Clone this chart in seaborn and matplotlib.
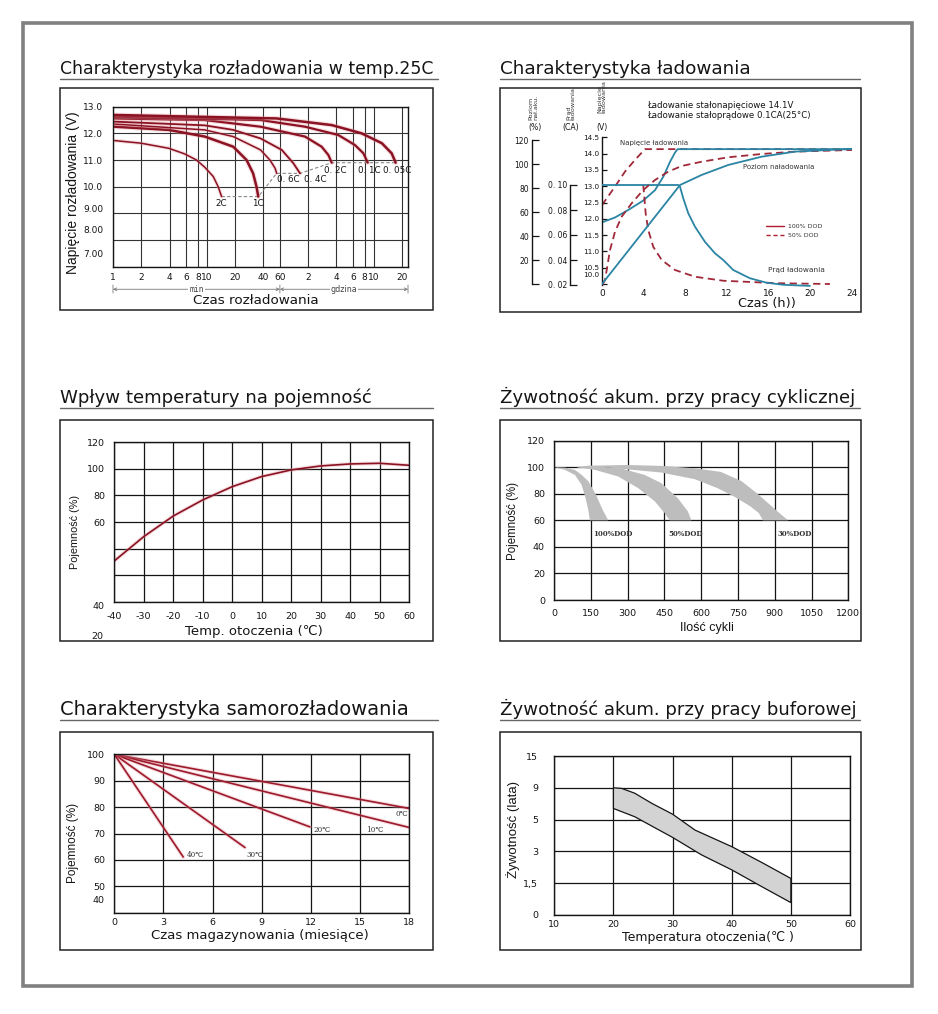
import matplotlib
matplotlib.use('Agg')
import matplotlib.pyplot as plt
import matplotlib.patheffects as pe
from matplotlib.lines import Line2D
from matplotlib.patches import Rectangle
from matplotlib.ticker import NullLocator, NullFormatter
import seaborn as sns

# ---------------- data ----------------
# discharge at 25C: time (minutes), voltage (V)
rate_names = ['2C', '1C', '0. 6C', '0. 4C', '0. 2C', '0. 1C', '0. 05C']
dis_t = [
    [1.04, 2.0, 3.93, 5.8, 7.76, 9.5, 11.7, 13.2, 14.35],
    [1.04, 3.93, 9.5, 19.1, 26.5, 31.1, 33.8, 35.3],
    [1.04, 9.5, 19.1, 37.3, 47, 53.4, 55.4],
    [1.04, 9.5, 19.1, 37.3, 62.8, 83.5, 98.3],
    [1.04, 9.5, 37.3, 111, 167, 197, 214],
    [1.04, 37.3, 111, 251, 379, 466, 518],
    [1.04, 55.4, 214, 446, 732, 932, 1027],
]
dis_v = [
    [11.73, 11.63, 11.44, 11.23, 11.0, 10.73, 10.38, 10.0, 9.63],
    [12.25, 12.13, 11.88, 11.5, 11.0, 10.5, 10.0, 9.63],
    [12.35, 12.13, 11.88, 11.38, 11.0, 10.69, 10.5],
    [12.44, 12.3, 12.13, 11.81, 11.38, 10.88, 10.5],
    [12.56, 12.5, 12.25, 11.88, 11.5, 11.19, 10.9],
    [12.63, 12.5, 12.25, 11.94, 11.56, 11.25, 10.9],
    [12.69, 12.56, 12.31, 12.0, 11.63, 11.25, 10.9],
]
dis_ticks = [1, 2, 4, 6, 8, 10, 20, 40, 60, 120, 240, 360, 480, 600, 1200]
dis_tick_labels = ['1', '2', '4', '6', '8', '10', '20', '40', '60', '2', '4', '6', '8', '10', '20']
dis_volt_labels = ['13.0', '12.0', '11.0', '10.0', '9.00', '8.00', '7.00']

# charging: hours; voltage (V), current (CA), charge level (%)
v100_h = [0, 1.25, 2.52, 3.96, 5.09, 5.88, 6.53, 7.0, 7.26, 24]
v100 = [11.89, 12.04, 12.27, 12.56, 12.88, 13.29, 13.75, 14.03, 14.14, 14.14]
v50_h = [0, 1.25, 2.21, 3.17, 4.13, 24]
v50 = [12.42, 12.99, 13.45, 13.81, 14.14, 14.14]
i100_h = [0, 7.32, 7.49, 7.8, 8.28, 8.93, 9.88, 10.84, 11.64, 12.6, 14.2, 15.81, 17.4, 19.0, 19.96]
i100 = [0.1, 0.1, 0.0986, 0.0894, 0.0774, 0.0666, 0.0546, 0.0454, 0.04, 0.032, 0.0254, 0.0218,
        0.0202, 0.0196, 0.0193]
i50_h = [3.96, 4.06, 4.19, 4.44, 4.92, 5.73, 7.01, 8.93, 11.64, 16.92, 21.88]
i50 = [0.1, 0.0906, 0.0774, 0.064, 0.0506, 0.04, 0.032, 0.0266, 0.0234, 0.0214, 0.0208]
c100_h = [0, 7.49, 9.57, 12.12, 15.33, 18.52, 21.72, 24]
c100 = [0.4, 82.9, 91.3, 99.6, 106.5, 110.7, 112.1, 112.9]
c50_h = [0.05, 0.29, 0.77, 1.25, 1.89, 2.85, 3.96, 5.09, 6.36, 7.65, 9.57, 12.12, 15.33, 18.52, 24]
c50 = [0, 3.75, 28.75, 44, 56.5, 67.7, 78.75, 87.1, 94, 98.75, 102.3, 106, 108.75, 110.7, 112.1]
chg_hours = [0, 4, 8, 12, 16, 20, 24]
volt_ticks = [14.5, 14.0, 13.5, 13.0, 12.5, 12.0, 11.5, 11.0, 10.5]
pct_ticks = [20, 40, 60, 80, 100, 120]
ca_ticks = [0.02, 0.04, 0.06, 0.08, 0.10]
ca_labels = ['0. 02', '0. 04', '0. 06', '0. 08', '0. 10']

# capacity vs temperature
temp_c = [-40, -30, -20, -10, 0, 10, 20, 30, 40, 50, 60]
temp_cap = [30.7, 49, 64.5, 76.6, 86.6, 94.2, 99.2, 102.2, 103.7, 104.2, 102.7]

# cycle life bands (cycles, capacity %), polygon outlines
dod_names = ['100%DOD', '50%DOD', '30%DOD']
dod100_x = [0, 44.7, 85.4, 112.5, 128.7, 139.6, 146.3, 221, 197, 172, 140, 112.5, 85.4, 44.7]
dod100_y = [100, 98, 94.25, 86.75, 76.75, 68, 60, 60, 68.5, 79, 89.5, 94.25, 98, 99.75]
dod50_x = [92, 167, 262, 343, 411, 451, 472, 560, 546, 505, 438, 370, 282, 200, 130]
dod50_y = [100, 98, 93, 84.3, 74.3, 65.5, 60, 60, 66.7, 76.7, 88, 94.2, 98.7, 100.3, 100.8]
dod30_x = [92, 140, 300, 440, 575, 680, 765, 830, 885, 925, 955, 852, 835, 801, 734, 666, 598,
           574, 438, 282, 200]
dod30_y = [100, 101.2, 101.7, 101, 99.2, 96.5, 89.5, 80, 71, 64.5, 60, 60, 65.5, 70.5, 78, 84.3,
           89.3, 91, 96, 98.7, 100]

# self discharge: straight lines from (0, 100)
sd_names = ['0℃', '10℃', '20℃', '30℃', '40℃']
sd_end_month = [18, 18, 11.95, 7.98, 4.21]
sd_end_cap = [79.5, 72.3, 72.5, 64.7, 61.1]

# float life band (temperature, position on the life scale)
life_up_t = [20, 21.4, 23.6, 26.5, 30, 33.8, 40, 45.1, 50]
life_up = [4.0, 3.98, 3.83, 3.51, 3.17, 2.67, 2.15, 1.65, 1.15]
life_lo_t = [20, 23.6, 30, 34.9, 40, 45.1, 50]
life_lo = [3.35, 3.09, 2.44, 1.89, 1.42, 0.89, 0.39]
life_labels = ['0', '1,5', '3', '5', '9', '15']

# ---------------- figure ----------------
sns.set_theme(style='white')
plt.rcParams['font.family'] = ['DejaVu Sans']
INK = '#151515'
RED = '#8a1222'
GLOW = '#e79aa3'
BLUE = '#2a84a4'
DRED = '#a02838'
NARROW = 'Liberation Sans'

W, H = 938, 1014
fig = plt.figure(figsize=(W / 100, H / 100), dpi=100)
fig.patch.set_facecolor('white')


def rect(x0, y0, x1, y1):
    return [x0 / W, 1 - y1 / H, (x1 - x0) / W, (y1 - y0) / H]


def ftext(x, y, s, **kw):
    kw.setdefault('color', INK)
    fig.text(x / W, 1 - y / H, s, **kw)


def frame(x0, y0, x1, y1, color='#222222', lw=1.1):
    fig.add_artist(Rectangle((x0 / W, 1 - y1 / H), (x1 - x0) / W, (y1 - y0) / H,
                             transform=fig.transFigure, fill=False, ec=color, lw=lw))


def heading(x0, x1, y, s, size=13.1):
    ftext(x0, y - 5, s, fontsize=size, va='baseline', ha='left')
    fig.add_artist(Line2D([x0 / W, x1 / W], [1 - y / H] * 2, color='#666666', lw=1.0))


def curve(ax, x, y, color, lw=1.3, ls='-', glow=None):
    kw = {}
    if glow:
        kw['path_effects'] = [pe.Stroke(linewidth=lw + 1.6, foreground=glow, alpha=0.35), pe.Normal()]
    sns.lineplot(x=x, y=y, ax=ax, color=color, linewidth=lw, linestyle=ls, sort=False,
                 estimator=None, legend=False, **kw)


def grid_axes(r, xlim, ylim, xticks, yticks, xlabels=None, ylabels=None, xpad=4, ypad=6, size=6.8):
    ax = fig.add_axes(r)
    ax.set_xticks(list(xticks))
    ax.set_yticks(list(yticks))
    ax.set_xticklabels(xlabels if xlabels is not None else [str(v) for v in xticks])
    ax.set_yticklabels(ylabels if ylabels is not None else [str(v) for v in yticks])
    ax.set_xlim(xlim)
    ax.set_ylim(ylim)
    ax.grid(True, color=INK, lw=0.9)
    ax.set_axisbelow(True)
    for s in ax.spines.values():
        s.set_color(INK)
        s.set_linewidth(1.0)
    ax.tick_params(length=0, labelsize=size, colors=INK)
    ax.tick_params(axis='x', pad=xpad)
    ax.tick_params(axis='y', pad=ypad)
    return ax


frame(23, 23, 912, 986, color='#808080', lw=2.6)

# ---- panel 1: discharge ----
heading(60, 438, 79, 'Charakterystyka rozładowania w temp.25C', size=12.4)
frame(60, 88, 433, 310)
ax1 = fig.add_axes(rect(113, 106.7, 408, 266.7))
ax1.set_xscale('log')
dis_lw = [1.1, 1.8, 1.1, 1.3, 1.6, 1.6, 1.8]
for t, v, lw in zip(dis_t, dis_v, dis_lw):
    curve(ax1, t, v, RED, lw, glow=GLOW)
ends_t = [t[-1] for t in dis_t]
ends_v = [v[-1] for v in dis_v]
ax1.plot(ends_t, ends_v, color='#888888', lw=0.8, ls=(0, (3, 2)), zorder=1)
lab_ha = ['center', 'center', 'left', 'left', 'center', 'center', 'center']
lab_fx = [1.0, 1.0, 1.02, 1.1, 1.08, 1.03, 1.03]
lab_dy = [-0.27, -0.27, -0.22, -0.22, -0.3, -0.3, -0.3]
for name, t, v, ha, fx, dy in zip(rate_names, ends_t, ends_v, lab_ha, lab_fx, lab_dy):
    ax1.text(t * fx, v + dy, name, ha=ha, va='center', fontsize=6.3, color=INK)
ax1.set_xlim(1, 1390)
ax1.set_ylim(7, 13)
ax1.set_xticks(dis_ticks)
ax1.set_xticklabels(dis_tick_labels)
ax1.xaxis.set_minor_locator(NullLocator())
ax1.xaxis.set_minor_formatter(NullFormatter())
ax1.yaxis.remove_overlapping_locs = False
ax1.set_yticks(range(7, 14))
ax1.set_yticklabels([''] * 7)
ax1.set_yticks([13, 12, 11, 10, 9.19, 8.41, 7.5], minor=True)
ax1.set_yticklabels(dis_volt_labels, minor=True)
ax1.grid(True, which='major', color='#333333', lw=0.8)
for s in ax1.spines.values():
    s.set_color(INK)
    s.set_linewidth(1.0)
ax1.tick_params(which='both', length=0, labelsize=6.5, colors=INK)
ax1.tick_params(axis='x', pad=4.3)
ax1.tick_params(axis='y', which='minor', pad=7)
row = ('data', 'axes fraction')
xr = ax1.get_xlim()[1]
for a, b, s, fam in [(1, 60, 'min', 'DejaVu Sans Mono'), (60, xr, 'gdzina', 'DejaVu Sans')]:
    ax1.annotate('', xy=(a, -0.141), xytext=(b, -0.141), xycoords=row,
                 arrowprops=dict(arrowstyle='<->', color='#777777', lw=0.6, mutation_scale=5,
                                 shrinkA=0, shrinkB=0))
    mid = (a * b) ** 0.5
    ax1.annotate(s, xy=(mid, -0.141), xycoords=row, ha='center', va='center', fontsize=5.8,
                 family=fam, color='#444444',
                 bbox=dict(fc='white', ec='none', pad=0.6))
for xv in [1, 60, xr]:
    ax1.annotate('', xy=(xv, -0.115), xytext=(xv, -0.165), xycoords=row,
                 arrowprops=dict(arrowstyle='-', color='#777777', lw=0.6, shrinkA=0, shrinkB=0))
ftext(73.3, 192.5, 'Napięcie rozładowania (V)', rotation=90, ha='center', va='center',
      fontsize=10, family=NARROW)
ftext(255.7, 300, 'Czas rozładowania', ha='center', va='center', fontsize=9.7)

# ---- panel 2: charging ----
heading(500, 860, 79, 'Charakterystyka ładowania', size=13.2)
frame(500, 88, 861, 312)
ax2 = fig.add_axes(rect(602, 135.8, 852, 287.1))
curve(ax2, v50_h, v50, DRED, 1.3, ls=(0, (4, 2.5)))
curve(ax2, v100_h, v100, BLUE, 1.3)
ax2.set_xlim(0, 24)
ax2.set_ylim(9.9, 14.55)
for s in ['top', 'right', 'bottom']:
    ax2.spines[s].set_visible(False)
ax2.spines['left'].set_color(INK)
ax2.spines['left'].set_linewidth(1.0)
ax2.spines['left'].set_bounds(9.95, 14.5)
ax2.set_yticks(volt_ticks + [10.0])
ax2.set_yticklabels([f'{v:.1f}' for v in volt_ticks] + [''])
ax2.set_xticks(chg_hours)
ax2.set_xticklabels([str(h) for h in chg_hours])
ax2.tick_params(axis='y', direction='in', length=3.6, width=0.9, labelsize=5.2, pad=2, colors=INK)
ax2.tick_params(axis='x', length=0, labelsize=6.5, pad=1.5, colors=INK)
ax2.annotate('10.0', xy=(0, 10.28), xycoords=('axes fraction', 'data'), xytext=(-2, 0),
             textcoords='offset points', ha='right', va='center', fontsize=5.2, color=INK)
ax2.set_ylim(9.9, 14.55)


def side_axis(parent, ylim, pos, ticks, labels, bounds):
    tw = parent.twinx()
    tw.yaxis.tick_left()
    for s in ['right', 'top', 'bottom']:
        tw.spines[s].set_visible(False)
    tw.spines['left'].set_visible(True)
    tw.spines['left'].set_position(('axes', pos))
    tw.spines['left'].set_color(INK)
    tw.spines['left'].set_linewidth(1.0)
    tw.set_yticks(ticks)
    tw.set_yticklabels(labels)
    tw.set_ylim(ylim)
    tw.spines['left'].set_bounds(*bounds)
    tw.tick_params(axis='y', direction='in', length=5, width=0.9, labelsize=5.5, pad=2, colors=INK)
    tw.grid(False)
    return tw


ax_ca = side_axis(ax2, (0.01832, 0.13936), -0.128, ca_ticks, ca_labels, (0.02, 0.10))
curve(ax_ca, i50_h, i50, DRED, 1.3, ls=(0, (4, 2.5)))
curve(ax_ca, i100_h, i100, BLUE, 1.3)
ax_ca.set_ylim(0.01832, 0.13936)
ax_pct = side_axis(ax2, (-2.17, 123.9), -0.281, [0] + pct_ticks, [''] + [str(p) for p in pct_ticks],
                   (0, 120))
curve(ax_pct, c50_h, c50, DRED, 1.3, ls=(0, (4, 2.5)))
curve(ax_pct, c100_h, c100, BLUE, 1.3)
ax_pct.set_ylim(-2.17, 123.9)
ax_pct.set_xlim(0, 24)

ax2.text(1.73, 14.34, 'Napięcie ładowania', fontsize=5, va='center', color='#333333')
ax2.text(13.53, 13.59, 'Poziom naładowania', fontsize=5, va='center', color='#333333')
ax2.text(15.93, 10.42, 'Prąd ładowania', fontsize=5.3, va='center', color='#333333')
handles = [Line2D([], [], color='#b01e2e', lw=1.0),
           Line2D([], [], color='#b01e2e', lw=1.0, ls=(0, (3, 2)))]
leg = ax_pct.legend(handles, ['100% DOD', '50% DOD'], loc='upper left', bbox_to_anchor=(0.655, 0.42),
                    frameon=False, fontsize=4.5, handlelength=3.0, handletextpad=0.6,
                    labelspacing=0.55, borderaxespad=0, borderpad=0)
for t in leg.get_texts():
    t.set_color('#333333')
ftext(646.7, 105, 'Ładowanie stałonapięciowe 14.1V', fontsize=6.2, va='center')
ftext(646.7, 115, 'Ładowanie stałoprądowe 0.1CA(25°C)', fontsize=6.2, va='center')
ftext(533.3, 119.5, 'Poziom\nnał.aku.', rotation=90, ha='center', va='bottom', fontsize=4.6,
      multialignment='left', linespacing=1.0, color='#333333')
ftext(571, 119.5, 'Prąd\nładowania', rotation=90, ha='center', va='bottom', fontsize=4.6,
      multialignment='left', linespacing=1.0, color='#333333')
ftext(602, 113, 'Napięcie\nładowania', rotation=90, ha='center', va='bottom', fontsize=4.6,
      multialignment='left', linespacing=1.0, color='#333333')
ftext(534.7, 127.3, '(%)', ha='center', va='center', fontsize=5.6)
ftext(571, 127.3, '(CA)', ha='center', va='center', fontsize=5.6)
ftext(602, 127.3, '(V)', ha='center', va='center', fontsize=5.6)
ftext(767, 304, 'Czas (h))', ha='center', va='center', fontsize=9.3)

# ---- panel 3: capacity vs temperature ----
heading(60, 433, 408, 'Wpływ temperatury na pojemność', size=13.1)
frame(60, 420, 433, 641)
ax3 = grid_axes(rect(114.3, 442.3, 409, 601.7), (-40, 60), (0, 120), range(-40, 61, 10),
                range(0, 121, 20), ylabels=['', '', '', '60', '80', '100', '120'], xpad=7.5, ypad=6.7)
curve(ax3, temp_c, temp_cap, RED, 1.2, glow=GLOW)
ax3.set_xlim(-40, 60)
ax3.set_ylim(0, 120)
for lab, yv, dx in [('40', -3.8, -7.2), ('20', -26.3, -7.9)]:
    ax3.annotate(lab, xy=(0, yv), xycoords=('axes fraction', 'data'), xytext=(dx, 0),
                 textcoords='offset points', ha='right', va='center', fontsize=6.8, color=INK,
                 annotation_clip=False)
ftext(75, 532, 'Pojemność (%)', rotation=90, ha='center', va='center', fontsize=7.8, family=NARROW)
ftext(254, 631, 'Temp. otoczenia (℃)', ha='center', va='center', fontsize=9.5)

# ---- panel 4: cycle life ----
heading(500, 860, 408, 'Żywotność akum. przy pracy cyklicznej', size=13.1)
frame(500, 420, 861, 641)
ax4 = grid_axes(rect(554, 440.7, 848.3, 600), (0, 1200), (0, 120), range(0, 1201, 150),
                range(0, 121, 20), xpad=6.7, ypad=6.5)
for bx, by in [(dod100_x, dod100_y), (dod50_x, dod50_y), (dod30_x, dod30_y)]:
    ax4.fill(bx, by, color='#bdbdbd', lw=0, zorder=2)
for name, xv in zip(dod_names, [160, 467, 910]):
    ax4.text(xv, 50, name, fontsize=5, family='DejaVu Serif', weight='bold', va='center',
             color='#333333')
ftext(513.3, 521, 'Pojemność (%)', rotation=90, ha='center', va='center', fontsize=8.3, family=NARROW)
ftext(706.7, 628.3, 'Ilość cykli', ha='center', va='center', fontsize=9, family=NARROW)

# ---- panel 5: self discharge ----
heading(60, 438, 720, 'Charakterystyka samorozładowania', size=14)
frame(60, 731.7, 433, 950)
ax5 = grid_axes(rect(114.3, 754.3, 409, 912.7), (0, 18), (40, 100), range(0, 19, 3),
                range(40, 101, 10), ylabels=['', '50', '60', '70', '80', '90', '100'],
                xpad=4.0, ypad=6.7)
for m, c in zip(sd_end_month, sd_end_cap):
    curve(ax5, [0, m], [100, c], '#9c1a2c', 1.2, glow=GLOW)
for name, xv, yv in zip(sd_names, [17.15, 15.4, 12.15, 8.08, 4.42], [77.3, 71.3, 71.3, 61.8, 61.8]):
    ax5.text(xv, yv, name, fontsize=5.2, family='DejaVu Serif', va='center', color='#333333')
ax5.set_xlim(0, 18)
ax5.set_ylim(40, 100)
ax5.annotate('40', xy=(0, 44.7), xycoords=('axes fraction', 'data'), xytext=(-6.7, 0),
             textcoords='offset points', ha='right', va='center', fontsize=6.8, color=INK)
ftext(73.3, 843, 'Pojemność (%)', rotation=90, ha='center', va='center', fontsize=8.5, family=NARROW)
ftext(260, 936, 'Czas magazynowania (miesiące)', ha='center', va='center', fontsize=9.5)

# ---- panel 6: float life ----
heading(500, 860, 720, 'Żywotność akum. przy pracy buforowej', size=13.1)
frame(500, 731.7, 861, 950)
ax6 = grid_axes(rect(554.3, 756, 850, 915), (10, 60), (0, 5), range(10, 61, 10), range(6),
                ylabels=life_labels, xpad=3.5, ypad=11.5)
ax6.fill(life_up_t + life_lo_t[::-1], life_up + life_lo[::-1], facecolor='#d3d3d3', edgecolor=INK,
         lw=0.9, zorder=2)
ftext(513.3, 830, 'Żywotność (lata)', rotation=90, ha='center', va='center', fontsize=9.5,
      family=NARROW)
ftext(708, 937.5, 'Temperatura otoczenia(℃ )', ha='center', va='center', fontsize=9.0)

fig.savefig('out.png', dpi=100, facecolor='white')
